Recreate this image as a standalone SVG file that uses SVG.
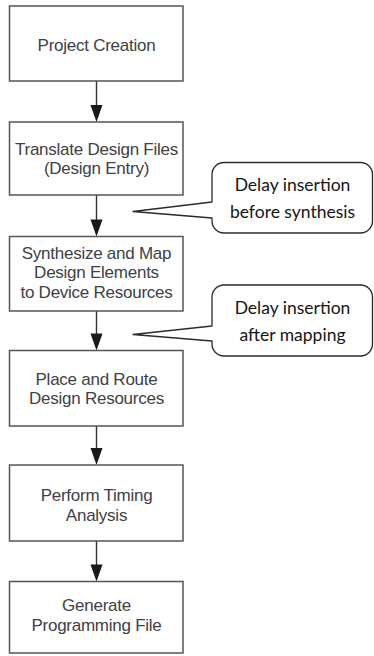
<svg xmlns="http://www.w3.org/2000/svg" width="374" height="656" viewBox="0 0 374 656">
  <style>
    .box { fill: #ffffff; stroke: #555555; stroke-width: 1.5; }
    .lbl { font-family: "Liberation Sans", Arial, sans-serif; font-size: 17px; letter-spacing: -0.25px; fill: #404048; text-anchor: middle; }
    .flow { stroke: #333333; stroke-width: 1.4; fill: none; }
    .head { fill: #1a1a1a; }
    .note { fill: #ffffff; stroke: #2a2a2a; stroke-width: 1.3; stroke-linejoin: round; }
    .ntxt { font-family: Lato, "Liberation Sans", sans-serif; font-size: 17.5px; fill: #151515; text-anchor: middle; }
  </style>
  <defs>
    <path id="ah" class="head" d="M -6 -17 L 6 -17 L 0 0 Z"/>
  </defs>
  <rect width="374" height="656" fill="#ffffff"/>

  <!-- connectors between process steps -->
  <g id="connectors">
    <line class="flow" x1="96.5" y1="81" x2="96.5" y2="106"/>
    <use href="#ah" x="96.5" y="122"/>
    <line class="flow" x1="96.5" y1="195" x2="96.5" y2="220"/>
    <use href="#ah" x="96.5" y="236.5"/>
    <line class="flow" x1="96.5" y1="311" x2="96.5" y2="334"/>
    <use href="#ah" x="96.5" y="350.5"/>
    <line class="flow" x1="96.5" y1="426" x2="96.5" y2="449"/>
    <use href="#ah" x="96.5" y="465"/>
    <line class="flow" x1="96.5" y1="541" x2="96.5" y2="565"/>
    <use href="#ah" x="96.5" y="581.5"/>
  </g>

  <g id="project-creation">
    <rect class="box" x="9.5" y="6" width="173.5" height="75"/>
    <text class="lbl" x="96.5" y="50.5">Project Creation</text>
  </g>

  <g id="translate">
    <rect class="box" x="9.5" y="122" width="173.5" height="73"/>
    <text class="lbl" x="96.5" y="155">Translate Design Files</text>
    <text class="lbl" x="96.5" y="174">(Design Entry)</text>
  </g>

  <g id="synthesize">
    <rect class="box" x="9.5" y="236.5" width="173.5" height="74.5"/>
    <text class="lbl" x="96.5" y="258.5">Synthesize and Map</text>
    <text class="lbl" x="96.5" y="278">Design Elements</text>
    <text class="lbl" x="96.5" y="297.5">to Device Resources</text>
  </g>

  <g id="place-route">
    <rect class="box" x="9.5" y="350.5" width="173.5" height="75.5"/>
    <text class="lbl" x="96.5" y="384.5">Place and Route</text>
    <text class="lbl" x="96.5" y="403.5">Design Resources</text>
  </g>

  <g id="timing">
    <rect class="box" x="9.5" y="465" width="173.5" height="76"/>
    <text class="lbl" x="96.5" y="500.5">Perform Timing</text>
    <text class="lbl" x="96.5" y="520.5">Analysis</text>
  </g>

  <g id="programming">
    <rect class="box" x="9.5" y="581.5" width="173.5" height="71.5"/>
    <text class="lbl" x="96.5" y="610.5">Generate</text>
    <text class="lbl" x="96.5" y="630.5">Programming File</text>
  </g>

  <!-- callouts pointing at the connectors -->
  <g id="note-before-synthesis">
    <path class="note" d="M 224 162.5 H 360.5 A 12 12 0 0 1 372.5 174.5 V 221 A 12 12 0 0 1 360.5 233 H 224 A 12 12 0 0 1 212 221 V 218 L 133 211.5 L 212 202 V 174.5 A 12 12 0 0 1 224 162.5 Z"/>
    <text class="ntxt" x="292.5" y="191">Delay insertion</text>
    <text class="ntxt" x="292.5" y="218">before synthesis</text>
  </g>

  <g id="note-after-mapping">
    <path class="note" d="M 224 285 H 360.5 A 12 12 0 0 1 372.5 297 V 344 A 12 12 0 0 1 360.5 356 H 224 A 12 12 0 0 1 212 344 V 341 L 133 334.5 L 212 326 V 297 A 12 12 0 0 1 224 285 Z"/>
    <text class="ntxt" x="292.5" y="314">Delay insertion</text>
    <text class="ntxt" x="292.5" y="341">after mapping</text>
  </g>
</svg>
